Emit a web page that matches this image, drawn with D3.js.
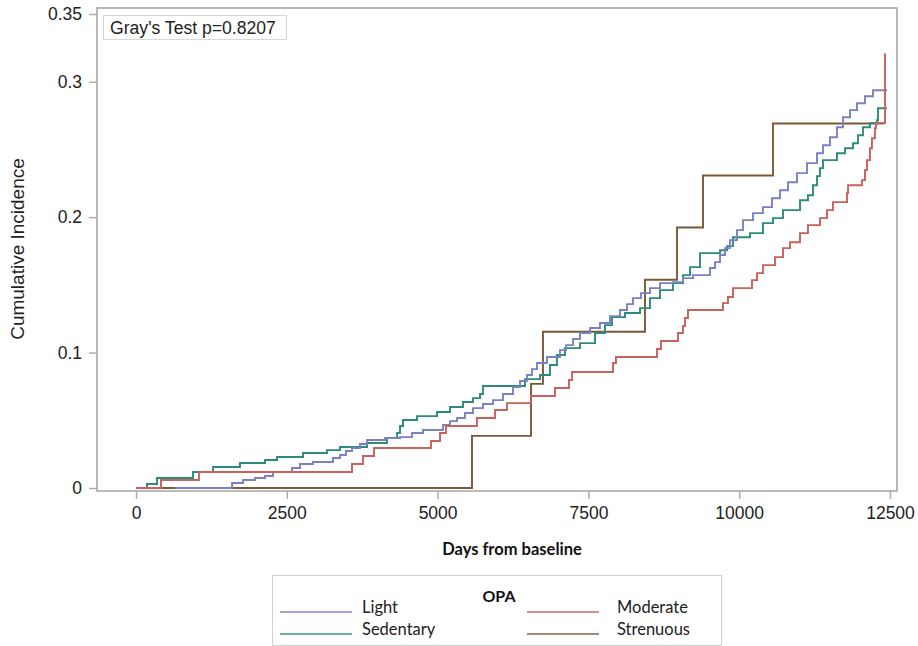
<!DOCTYPE html>
<html>
<head>
<meta charset="utf-8">
<script src="https://cdn.jsdelivr.net/npm/d3@7/dist/d3.min.js"></script>
<style>
  html, body { margin: 0; padding: 0; background: #fff; }
  svg { display: block; }
</style>
</head>
<body>
<svg id="chart" width="918" height="646"></svg>
<script>
// ---------- DATA ----------
const xTicks = [0, 2500, 5000, 7500, 10000, 12500];
const yTicks = [0, 0.1, 0.2, 0.3, 0.35];
const yTickLabels = ["0", "0.1", "0.2", "0.3", "0.35"];
const groups = ["Light", "Moderate", "Sedentary", "Strenuous"];

const lightDays = [647, 1592, 1774, 1973, 2139, 2271, 2586, 2719, 2934, 3266, 3382, 3481, 3581, 3714, 3830, 4128, 4377, 4576, 4758, 5090, 5206, 5322, 5454, 5587, 5753, 5918, 6084, 6250, 6366, 6482, 6565, 6648, 6814, 7029, 7129, 7245, 7361, 7527, 7692, 7858, 8024, 8140, 8239, 8372, 8521, 8687, 8902, 9068, 9234, 9516, 9599, 9682, 9765, 9847, 9964, 10063, 10229, 10394, 10543, 10676, 10809, 10958, 11124, 11290, 11389, 11505, 11621, 11721, 11837, 11953, 12085, 12218, 12450];
const lightCI = [0, 0.0037, 0.0059, 0.0074, 0.0089, 0.0118, 0.0148, 0.0177, 0.0192, 0.0221, 0.0244, 0.0273, 0.0295, 0.0325, 0.0354, 0.0369, 0.0376, 0.0406, 0.0428, 0.0465, 0.0494, 0.0517, 0.0554, 0.0590, 0.0620, 0.0649, 0.0694, 0.0745, 0.0790, 0.0834, 0.0878, 0.0923, 0.0967, 0.1018, 0.1055, 0.1100, 0.1144, 0.1181, 0.1218, 0.1269, 0.1314, 0.1358, 0.1402, 0.1439, 0.1476, 0.1513, 0.1520, 0.1550, 0.1572, 0.1624, 0.1668, 0.1720, 0.1771, 0.1830, 0.1904, 0.1978, 0.2030, 0.2074, 0.2140, 0.2199, 0.2258, 0.2325, 0.2399, 0.2472, 0.2531, 0.2590, 0.2664, 0.2738, 0.2790, 0.2841, 0.2893, 0.2937, 0.2937];

const moderateDays = [0, 414, 1044, 3581, 3763, 3946, 4891, 5040, 5139, 5653, 5952, 6150, 6548, 6946, 7178, 7228, 7908, 7957, 8637, 8703, 8985, 9068, 9101, 9151, 9731, 9814, 9897, 10212, 10295, 10394, 10593, 10726, 10842, 11008, 11140, 11339, 11455, 11555, 11787, 11804, 12036, 12085, 12118, 12168, 12201, 12251, 12268, 12417];
const moderateCI = [0, 0.0059, 0.0118, 0.0177, 0.0236, 0.0295, 0.0347, 0.0406, 0.0458, 0.0517, 0.0576, 0.0627, 0.0679, 0.0738, 0.0797, 0.0856, 0.0923, 0.0967, 0.1026, 0.1085, 0.1144, 0.1196, 0.1255, 0.1314, 0.1365, 0.1410, 0.1476, 0.1535, 0.1587, 0.1646, 0.1705, 0.1771, 0.1815, 0.1882, 0.1941, 0.1993, 0.2052, 0.2111, 0.2177, 0.2236, 0.2273, 0.2347, 0.2421, 0.2509, 0.2583, 0.2657, 0.2694, 0.3210];

const sedentaryDays = [0, 182, 348, 945, 1277, 1724, 2139, 2338, 2769, 3166, 3382, 3830, 4161, 4327, 4377, 4426, 4659, 4990, 5206, 5421, 5587, 5703, 5753, 6449, 6698, 6863, 6979, 7112, 7361, 7610, 7775, 7891, 8107, 8356, 8521, 8687, 8902, 9068, 9184, 9350, 9682, 9798, 9897, 10179, 10394, 10560, 10726, 11008, 11140, 11223, 11290, 11339, 11389, 11621, 11754, 11887, 11970, 12052, 12168, 12284, 12301, 12450];
const sedentaryCI = [0, 0.0030, 0.0074, 0.0118, 0.0155, 0.0185, 0.0207, 0.0229, 0.0258, 0.0280, 0.0303, 0.0332, 0.0369, 0.0406, 0.0458, 0.0502, 0.0531, 0.0561, 0.0598, 0.0635, 0.0664, 0.0694, 0.0753, 0.0804, 0.0834, 0.0908, 0.0982, 0.1033, 0.1070, 0.1144, 0.1203, 0.1262, 0.1292, 0.1328, 0.1402, 0.1461, 0.1513, 0.1572, 0.1631, 0.1734, 0.1756, 0.1786, 0.1852, 0.1882, 0.1956, 0.1993, 0.2052, 0.2125, 0.2162, 0.2236, 0.2303, 0.2362, 0.2421, 0.2472, 0.2509, 0.2546, 0.2605, 0.2664, 0.2694, 0.2716, 0.2804, 0.2804];

const strenuousDays = [0, 5570, 6549, 6747, 8438, 8969, 9400, 10560, 12400];
const strenuousCI = [0, 0.0385, 0.0769, 0.1154, 0.1538, 0.1923, 0.2308, 0.2692, 0.2692];

const colors = { Light: "#7b80c4", Moderate: "#c9615d", Sedentary: "#2c8c78", Strenuous: "#7a5a36" };
const pValueText = "Gray's Test p=0.8207";

// ---------- CHART ----------
const svg = d3.select("#chart");
const frame = { left: 97, top: 8, right: 897, bottom: 491 };

const x = d3.scaleLinear().domain([0, 12500]).range([136, 890]);
const y = d3.scaleLinear().domain([0, 0.35]).range([488, 14]);

const fontMain = "'Liberation Sans', Arial, sans-serif";
const fontCal = "Lato, 'Open Sans', sans-serif";

// frame
svg.append("rect")
  .attr("x", frame.left).attr("y", frame.top)
  .attr("width", frame.right - frame.left).attr("height", frame.bottom - frame.top)
  .attr("fill", "none").attr("stroke", "#a9a9a9").attr("stroke-width", 1.6);

// y axis
const yAxis = d3.axisLeft(y).tickValues(yTicks)
  .tickFormat((d, i) => yTickLabels[i]).tickSize(8).tickPadding(7);
const gy = svg.append("g").attr("transform", `translate(${frame.left},0)`).call(yAxis);
gy.select(".domain").remove();
gy.selectAll(".tick line").attr("stroke", "#a9a9a9").attr("stroke-width", 1.4);
gy.selectAll(".tick text").attr("font-family", fontMain).attr("font-size", 17.5).attr("fill", "#222");

// x axis
const xAxis = d3.axisBottom(x).tickValues(xTicks).tickFormat(d3.format("d")).tickSize(8).tickPadding(8);
const gx = svg.append("g").attr("transform", `translate(0,${frame.bottom})`).call(xAxis);
gx.select(".domain").remove();
gx.selectAll(".tick line").attr("stroke", "#a9a9a9").attr("stroke-width", 1.4);
gx.selectAll(".tick text").attr("font-family", fontMain).attr("font-size", 17.5).attr("fill", "#222");

// axis titles
svg.append("text").attr("x", 512).attr("y", 555).attr("text-anchor", "middle")
  .attr("font-family", fontCal).attr("font-weight", "bold").attr("font-size", 16.5).attr("fill", "#111")
  .text("Days from baseline");
svg.append("text").attr("transform", "translate(24,249) rotate(-90)").attr("text-anchor", "middle")
  .attr("font-family", fontMain).attr("font-size", 19).attr("fill", "#222")
  .text("Cumulative Incidence");

// series
const series = {
  Light: lightDays.map((d, i) => [d, lightCI[i]]),
  Moderate: moderateDays.map((d, i) => [d, moderateCI[i]]),
  Sedentary: sedentaryDays.map((d, i) => [d, sedentaryCI[i]]),
  Strenuous: strenuousDays.map((d, i) => [d, strenuousCI[i]])
};
const line = d3.line().x(d => x(d[0])).y(d => y(d[1])).curve(d3.curveStepAfter);
const drawOrder = ["Strenuous", "Sedentary", "Light", "Moderate"];
drawOrder.forEach(g => {
  svg.append("path").datum(series[g]).attr("d", line)
    .attr("fill", "none").attr("stroke", colors[g]).attr("stroke-width", 1.9)
    .attr("stroke-linejoin", "miter");
});

// Gray's test inset
svg.append("rect").attr("x", 103.5).attr("y", 15.5).attr("width", 183).attr("height", 24)
  .attr("fill", "#fff").attr("stroke", "#d8d8d8").attr("stroke-width", 1);
svg.append("text").attr("x", 110).attr("y", 34)
  .attr("font-family", fontMain).attr("font-size", 17.6).attr("fill", "#222").text(pValueText);

// legend
const lg = svg.append("g");
lg.append("rect").attr("x", 272.5).attr("y", 575.5).attr("width", 449).attr("height", 70)
  .attr("fill", "#fff").attr("stroke", "#d0d0d0").attr("stroke-width", 1);
lg.append("text").attr("x", 499).attr("y", 602).attr("text-anchor", "middle")
  .attr("font-family", fontCal).attr("font-weight", "bold").attr("font-size", 16).attr("fill", "#111")
  .text("OPA");
const legendItems = [
  { name: "Light", col: 0, row: 0 },
  { name: "Sedentary", col: 0, row: 1 },
  { name: "Moderate", col: 1, row: 0 },
  { name: "Strenuous", col: 1, row: 1 }
];
const colX = [280, 527];
const rowY = [612, 634];
legendItems.forEach(it => {
  lg.append("line").attr("x1", colX[it.col]).attr("x2", colX[it.col] + 72)
    .attr("y1", rowY[it.row]).attr("y2", rowY[it.row])
    .attr("stroke", colors[it.name]).attr("stroke-width", 2.2).attr("opacity", 0.7);
  lg.append("text").attr("x", colX[it.col] + (it.col === 0 ? 82 : 90)).attr("y", rowY[it.row] + 1)
    .attr("font-family", fontCal).attr("font-size", 16.5).attr("fill", "#222")
    .text(it.name);
});
</script>
</body>
</html>
